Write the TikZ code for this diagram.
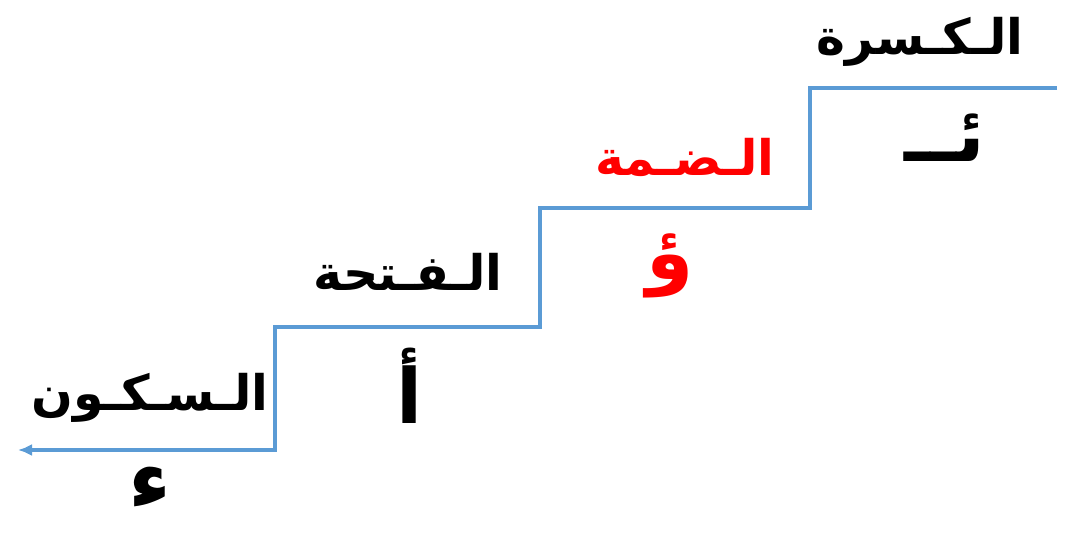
\documentclass[tikz,border=0pt]{standalone}
\usepackage{fontspec}
\TeXXeTstate=1
\newfontfamily\arabicfont[Script=Arabic]{DejaVu Sans}
\usetikzlibrary{arrows.meta}
\definecolor{stairblue}{HTML}{5B9BD5}
\definecolor{redtext}{HTML}{FF0000}
\tikzset{
  stair/.style={draw=stairblue, line width=3.5pt, -{Latex[length=14pt,width=12pt]}},
  lbl/.style={font=\arabicfont\bfseries\fontsize{49}{56}\selectfont, inner sep=0pt},
  letter/.style={font=\arabicfont\bfseries\fontsize{76}{80}\selectfont, inner sep=0pt}
}
\begin{document}
\begin{tikzpicture}[x=1pt,y=-1pt]
\useasboundingbox (0,0) rectangle (1071,534);
\coordinate (s0) at (1057,88);
\coordinate (s1) at (810,88);
\coordinate (s2) at (810,208);
\coordinate (s3) at (540,208);
\coordinate (s4) at (540,327);
\coordinate (s5) at (275,327);
\coordinate (s6) at (275,450);
\coordinate (s7) at (18,450);
\draw[stair] (s0) -- (s1) -- (s2) -- (s3) -- (s4) -- (s5) -- (s6) -- (s7);
\node[lbl] (kasra) at (920,42) {\beginR الـكـسرة\endR};
\node[letter] (kasraL) at (945,138) {\beginR ئــ\endR};
\node[lbl, text=redtext] (damma) at (685,157) {\beginR الـضـمة\endR};
\node[letter, text=redtext] (dammaL) at (670,266) {\beginR ؤ\endR};
\node[lbl] (fatha) at (408,272) {\beginR الـفـتحة\endR};
\node[letter] (fathaL) at (410,386) {\beginR أ\endR};
\node[lbl] (sukun) at (150,398) {\beginR الـسـكـون\endR};
\node[letter, font=\arabicfont\bfseries\fontsize{84}{88}\selectfont, anchor=base] (sukunL) at (150,508) {\beginR ء\endR};
\end{tikzpicture}
\end{document}
